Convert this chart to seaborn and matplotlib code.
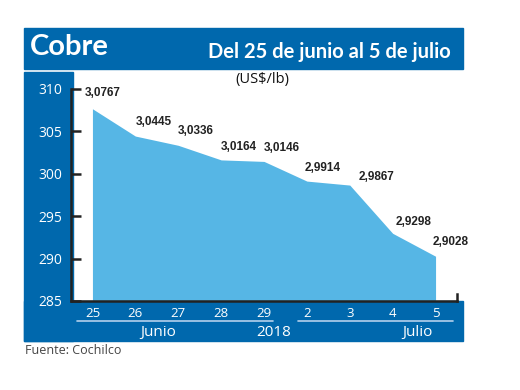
import matplotlib
matplotlib.use("Agg")
import matplotlib.pyplot as plt
import matplotlib.transforms as mtransforms
from matplotlib.patches import Rectangle
import pandas as pd
import seaborn as sns

# datos: cobre, US$/lb (en centavos en el eje)
dias = ['25', '26', '27', '28', '29', '2', '3', '4', '5']
precios = [307.67, 304.45, 303.36, 301.64, 301.46, 299.14, 298.67, 292.98, 290.28]
meses = ['Junio', '2018', 'Julio']
yticks = [285, 290, 295, 300, 305, 310]

AZUL = '#0068ad'
CELESTE = '#56b6e5'

sns.set_style("white")
plt.rcParams['font.family'] = ['Open Sans', 'DejaVu Sans']

df = pd.DataFrame({'x': range(len(dias)), 'precio': precios})

fig = plt.figure(figsize=(5.2, 3.9), dpi=100)
ax = fig.add_axes([71/520, 1 - 301/390, (457 - 71)/520, (301 - 89)/390])
ax.patch.set_alpha(0)

# bandas azules
for (x0, y0, x1, y1) in [(24, 28, 463, 69), (24, 72, 73, 341), (24, 301, 463, 341)]:
    fig.patches.append(Rectangle((x0/520, 1 - y1/390), (x1 - x0)/520, (y1 - y0)/390,
                                 transform=fig.transFigure, color=AZUL, zorder=-5))

sns.lineplot(data=df, x='x', y='precio', ax=ax, linewidth=0, color=CELESTE)
ax.fill_between(df['x'], 285, df['precio'], color=CELESTE, linewidth=0)

ax.set_xlim(-0.5, len(dias) - 0.5)
ax.set_ylim(285, 310)
ax.set_yticks(yticks)
ax.set_xticks(range(len(dias)))
ax.set_xticklabels(dias)
ax.set_xlabel('')
ax.set_ylabel('')

ax.tick_params(axis='y', direction='in', length=7, width=1.8, color='#222222',
               labelcolor='white', labelsize=10, pad=6, left=True)
ax.tick_params(axis='x', length=0, labelcolor='white', labelsize=9.5, pad=4)

for s in ['left', 'bottom']:
    ax.spines[s].set_linewidth(1.8)
    ax.spines[s].set_color('#222222')
ax.spines['top'].set_visible(False)
ax.spines['right'].set_linewidth(1.8)
ax.spines['right'].set_color('#222222')
ax.spines['right'].set_bounds(285, 285.8)

# etiquetas de valores
dx = [-8, 0, 0, 0, 0, -2, 9, 3, -3]
dy = [10, 8, 8, 7, 7, 7, 2, 5, 8]
for i, p in enumerate(precios):
    txt = f"{p/100:.4f}".replace('.', ',')
    ax.annotate(txt, (i, p), xytext=(dx[i], dy[i]), textcoords='offset pixels',
                ha='left', va='bottom', fontsize=8.5, fontweight='bold',
                family=['Liberation Sans Narrow', 'Liberation Sans'],
                color='#222222')

# separadores y meses en la banda inferior
trans = mtransforms.blended_transform_factory(ax.transData, ax.transAxes)
ax.plot([-0.36, 4.21], [-0.094, -0.094], color='#b4d0ec', lw=1.2,
        transform=trans, clip_on=False)
ax.plot([4.79, 8.40], [-0.094, -0.094], color='#b4d0ec', lw=1.2,
        transform=trans, clip_on=False)
for m, xm in zip(meses, [1.53, 4.23, 7.57]):
    ax.text(xm, -0.148, m, transform=trans, ha='center', va='center',
            color='white', fontsize=11)

fig.text(30/520, 1 - 47/390, 'Cobre', color='white', fontsize=21,
         fontweight='bold', family='Lato', va='center', ha='left')
fig.text(451/520, 1 - 52/390, 'Del 25 de junio al 5 de julio', color='white',
         fontsize=14.5, fontweight='bold', family='Lato', va='center', ha='right')
fig.text(262/520, 1 - 80/390, '(US$/lb)', color='#111111', fontsize=10.5,
         ha='center', va='center')
fig.text(25/520, 1 - 350/390, 'Fuente: Cochilco', color='#444444', fontsize=9,
         ha='left', va='center')

fig.savefig('out.png', dpi=100)
